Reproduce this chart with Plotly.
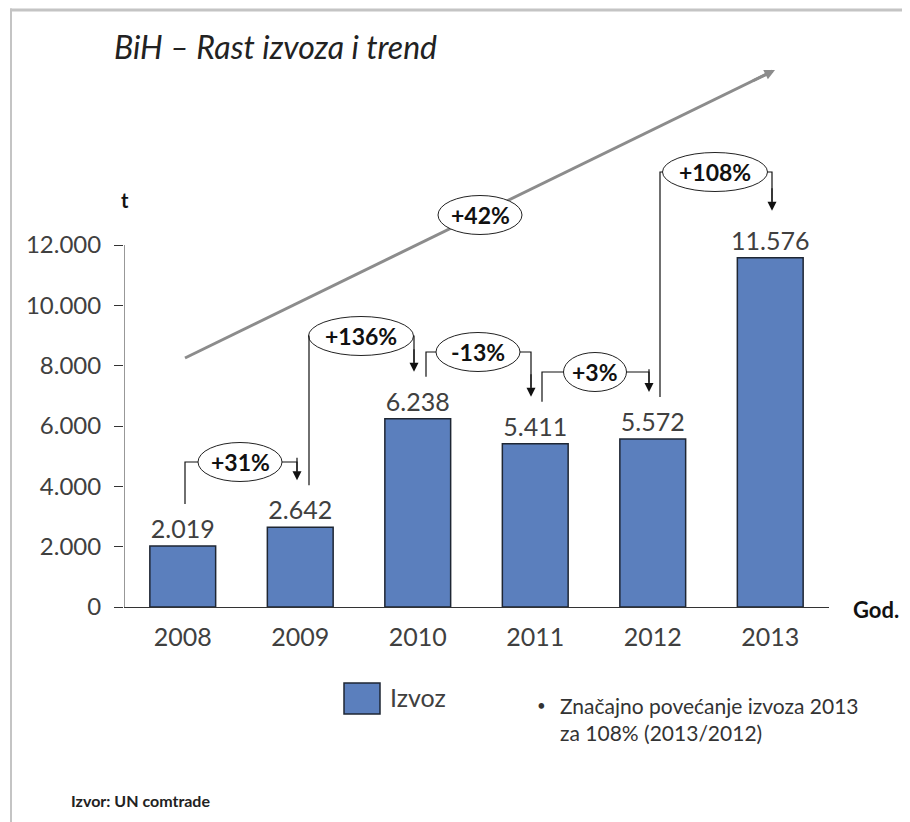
import plotly.graph_objects as go

# ---------------- data ----------------
years = ["2008", "2009", "2010", "2011", "2012", "2013"]
izvoz = [2019, 2642, 6238, 5411, 5572, 11576]
y_ticks = [0, 2000, 4000, 6000, 8000, 10000, 12000]
series_name = "Izvoz"
title_text = "BiH – Rast izvoza i trend"
source_text = "Izvor: UN comtrade"

# ---------------- layout geometry (reference pixels) ----------------
OFF = 8                  # page body margin of the browser
W, H = 910 - OFF, 822 - OFF
L, R = 124, 829          # plot area left/right (reference px)
B = 607                  # reference pixel of y = 0
Y12 = 245                # reference pixel of y = 12000
N = len(years)

def xd(px):  # reference pixel -> data x
    return (px - L) / (R - L) * N - 0.5

def yd(py):  # reference pixel -> data y
    return (B - py) / (B - Y12) * 12000

def xp(px):  # reference pixel -> paper x
    return (px - L) / (R - L)

def yp(py):  # reference pixel -> paper y  (plot area spans B .. OFF)
    return (B - py) / (B - OFF)

Y_TOP = yd(OFF)
PX_PER_X = (R - L) / N
PX_PER_Y = (B - Y12) / 12000

FONT = "Lato"
GREY_TXT = "#404040"
BAR_FILL = "#5b7fbd"
BAR_LINE = "#1e2633"

fig = go.Figure()
fig.add_trace(go.Bar(
    x=list(range(N)), y=izvoz, name=series_name,
    marker=dict(color=BAR_FILL, line=dict(color=BAR_LINE, width=1.5)),
    width=0.56,
    text=izvoz, texttemplate="%{y:,}", textposition="outside", constraintext="none",
    textfont=dict(family=FONT, size=25, color=GREY_TXT),
    cliponaxis=False, showlegend=False,
))

shapes = []
annotations = []

# frame (top and left edges, as thin filled bands)
shapes.append(dict(type="rect", xref="paper", yref="paper", x0=xp(10), x1=xp(912), y0=yp(11.5), y1=yp(8.5),
                   fillcolor="#c4c4c4", line=dict(width=0)))
shapes.append(dict(type="rect", xref="paper", yref="paper", x0=xp(10), x1=xp(12), y0=yp(8.5), y1=yp(824),
                   fillcolor="#c4c4c4", line=dict(width=0)))

# y axis line (only up to 12000)
shapes.append(dict(type="line", xref="x", yref="y", x0=-0.5, x1=-0.5, y0=0, y1=y_ticks[-1],
                   line=dict(color="#333333", width=1)))

# trend line (shape so the ellipse can cover it)
tx0, ty0 = xd(185), yd(358)
tx1, ty1 = xd(775), yd(70)
slope = (ty1 - ty0) / (tx1 - tx0)
shapes.append(dict(type="line", xref="x", yref="y", x0=tx0, y0=ty0, x1=tx1 - 0.05, y1=ty1 - slope * 0.05,
                   line=dict(color="#8c8c8c", width=3)))
annotations.append(dict(x=tx1, y=ty1, ax=tx1 - 0.2, ay=ty1 - slope * 0.2,
                        xref="x", yref="y", axref="x", ayref="y", text="", showarrow=True,
                        arrowhead=2, arrowsize=0.7, arrowwidth=3, arrowcolor="#8c8c8c", standoff=0))

cagr = (izvoz[-1] / izvoz[0]) ** (1 / (N - 1)) - 1

def pct(v):
    return ("+" if v >= 0 else "-") + f"{abs(round(v * 100)):.0f}%"

def ellipse(cx, cy, text):
    w = 21 * len(text) / PX_PER_X / 2
    h = 19.5 / PX_PER_Y
    shapes.append(dict(type="circle", xref="x", yref="y", x0=cx - w, x1=cx + w, y0=cy - h, y1=cy + h,
                       fillcolor="white", line=dict(color="#222222", width=1)))
    annotations.append(dict(x=cx, y=cy, xref="x", yref="y", text="<b>" + text + "</b>", showarrow=False,
                            font=dict(family=FONT, size=23, color="#111111")))
    return cx - w, cx + w

ellipse((tx0 + tx1) / 2, yd(215), pct(cagr))

# year-on-year brackets (reference px positions)
bracket_left_px = [185, 309, 426, 542, 660]
bracket_level_px = [462, 336, 352, 372, 172]
bracket_center_px = [240, 361, 478, 595, 715]
bracket_right_px = [297, 414, 531, 649, 772]
START_GAP = 42   # px above bar top where the left leg starts
TIP_GAP = 47     # px above bar top where the arrow tip stops

for i in range(N - 1):
    change = izvoz[i + 1] / izvoz[i] - 1
    text = pct(change)
    level = yd(bracket_level_px[i])
    xl, xr = xd(bracket_left_px[i]), xd(bracket_right_px[i])
    el, er = ellipse(xd(bracket_center_px[i]), level, text)
    y_start = izvoz[i] + START_GAP / PX_PER_Y
    y_tip = izvoz[i + 1] + TIP_GAP / PX_PER_Y
    shapes.append(dict(type="path", xref="x", yref="y",
                       path=f"M {xl},{y_start} V {level} H {el}",
                       line=dict(color="#111111", width=1.2)))
    shapes.append(dict(type="path", xref="x", yref="y",
                       path=f"M {er},{level} H {xr} V {y_tip + 300}",
                       line=dict(color="#111111", width=1.2)))
    annotations.append(dict(x=xr, y=y_tip, ax=xr, ay=y_tip + 800, xref="x", yref="y", axref="x", ayref="y",
                            text="", showarrow=True, arrowhead=2, arrowsize=1.5, arrowwidth=1.2,
                            arrowcolor="#111111", standoff=0))

# texts
annotations.append(dict(x=xp(112), y=yp(47), xref="paper", yref="paper", xanchor="left", yanchor="middle",
                        text="<i>" + title_text + "</i>", showarrow=False,
                        font=dict(family=FONT, size=32, color="#222222")))
annotations.append(dict(x=xp(125), y=yp(200), xref="paper", yref="paper", xanchor="center", yanchor="middle",
                        text="<b>t</b>", showarrow=False, font=dict(family=FONT, size=20, color="#111111")))
annotations.append(dict(x=xp(851), y=yp(609), xref="paper", yref="paper", xanchor="left", yanchor="middle",
                        text="<b>God.</b>", showarrow=False, font=dict(family=FONT, size=22, color="#111111")))
annotations.append(dict(x=xp(69), y=yp(800), xref="paper", yref="paper", xanchor="left", yanchor="middle",
                        text="<b>" + source_text + "</b>", showarrow=False,
                        font=dict(family=FONT, size=16, color="#222222")))

# legend (manual)
shapes.append(dict(type="rect", xref="paper", yref="paper", x0=xp(344), x1=xp(380), y0=yp(714), y1=yp(683),
                   fillcolor=BAR_FILL, line=dict(color=BAR_LINE, width=1.5)))
annotations.append(dict(x=xp(388), y=yp(697), xref="paper", yref="paper", xanchor="left", yanchor="middle",
                        text=series_name, showarrow=False, font=dict(family=FONT, size=25, color=GREY_TXT)))

# note
last_change = izvoz[-1] / izvoz[-2] - 1
note1 = f"Značajno povećanje izvoza {years[-1]}"
note2 = f"za {round(last_change * 100):.0f}% ({years[-1]}/{years[-2]})"
annotations.append(dict(x=xp(535), y=yp(705), xref="paper", yref="paper", xanchor="left", yanchor="middle",
                        text="•", showarrow=False, font=dict(family=FONT, size=15, color="#333333")))
annotations.append(dict(x=xp(558), y=yp(705), xref="paper", yref="paper", xanchor="left", yanchor="middle",
                        text=note1, showarrow=False, font=dict(family=FONT, size=21, color="#333333")))
annotations.append(dict(x=xp(558), y=yp(732), xref="paper", yref="paper", xanchor="left", yanchor="middle",
                        text=note2, showarrow=False, font=dict(family=FONT, size=21, color="#333333")))

fig.update_layout(
    width=W, height=H,
    margin=dict(l=L - OFF, r=W - (R - OFF), t=0, b=H - (B - OFF), pad=0),
    paper_bgcolor="white", plot_bgcolor="white",
    separators=",.",
    showlegend=False,
    xaxis=dict(range=[-0.5, N - 0.5], tickvals=list(range(N)), ticktext=years,
               showline=True, linecolor="#333333", linewidth=1, showgrid=False, zeroline=False,
               ticks="", ticklabelstandoff=8,
               tickfont=dict(family=FONT, size=25, color=GREY_TXT), fixedrange=True),
    yaxis=dict(range=[0, Y_TOP], tickvals=y_ticks, ticktext=[f"{v:,}".replace(",", ".") for v in y_ticks],
               showline=False, showgrid=False, zeroline=False,
               ticks="outside", ticklen=9, tickcolor="#333333", tickwidth=1, ticklabelstandoff=8,
               tickfont=dict(family=FONT, size=24, color=GREY_TXT), fixedrange=True),
    shapes=shapes, annotations=annotations,
)

fig.write_html("out.html")
